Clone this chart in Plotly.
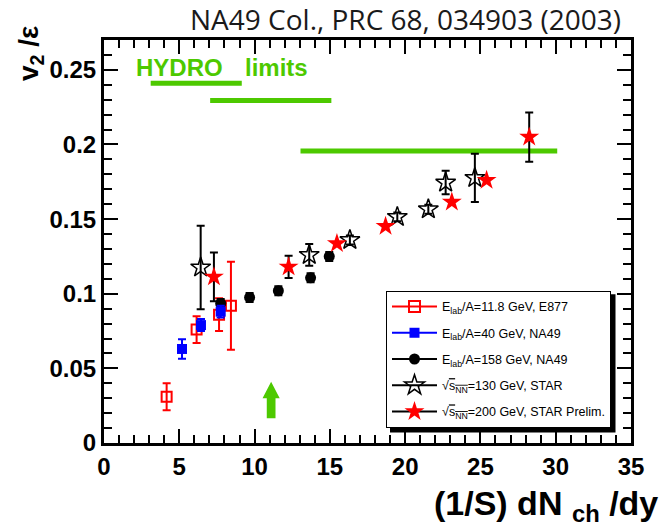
import plotly.graph_objects as go

# ---------------- data ----------------
e877_x = [4.16, 6.15, 7.64, 8.43]
e877_y = [0.031, 0.076, 0.086, 0.092]
e877_err = [0.009, 0.009, 0.011, 0.0295]

na49_40_x = [5.18, 6.44, 7.75]
na49_40_y = [0.063, 0.079, 0.088]
na49_40_err = [0.0065, 0.004, 0.004]

na49_158_x = [7.75, 9.67, 11.58, 13.72, 14.96]
na49_158_y = [0.0935, 0.0975, 0.102, 0.1107, 0.125]
na49_158_err = [0.003, 0.003, 0.003, 0.003, 0.003]

star130_x = [6.42, 13.63, 16.33, 19.48, 21.54, 22.69, 24.63]
star130_y = [0.1176, 0.126, 0.136, 0.1515, 0.1566, 0.1745, 0.1776]
star130_err = [0.028, 0.0073, 0.003, 0.003, 0.003, 0.0079, 0.0162]

star200_x = [7.30, 12.26, 15.47, 18.70, 23.10, 25.41, 28.24]
star200_y = [0.1113, 0.118, 0.1337, 0.1452, 0.1615, 0.176, 0.205]
star200_err = [0.0163, 0.0074, 0.0, 0.0, 0.0, 0.0, 0.0165]

hydro_x0 = [3.1, 7.05, 13.05]
hydro_x1 = [9.15, 15.1, 30.1]
hydro_y = [0.241, 0.2295, 0.1957]

arrow_x = 11.1
arrow_tip = 0.041
arrow_head_base = 0.030
arrow_bottom = 0.0165

x_range = [0, 35]
y_range = [0, 0.27]
x_ticks = [0, 5, 10, 15, 20, 25, 30, 35]
x_ticklabels = ["0", "5", "10", "15", "20", "25", "30", "35"]
y_ticks = [0, 0.05, 0.1, 0.15, 0.2, 0.25]
y_ticklabels = ["0", "0.05", "0.1", "0.15", "0.2", "0.25"]

names = [
    "E<sub>lab</sub>/A=11.8 GeV, E877",
    "E<sub>lab</sub>/A=40 GeV, NA49",
    "E<sub>lab</sub>/A=158 GeV, NA49",
    "√<span style='text-decoration:overline'>s<sub>NN</sub></span>=130 GeV, STAR",
    "√<span style='text-decoration:overline'>s<sub>NN</sub></span>=200 GeV, STAR Prelim.",
]

# ---------------- style ----------------
GREEN = "#4dc900"
RED = "#ff0000"
BLUE = "#0000ff"
BLACK = "#000000"
shaft_half = 0.29
head_half = 0.57

fig = go.Figure()

# hydro limit lines
hx, hy = [], []
for a, b, yv in zip(hydro_x0, hydro_x1, hydro_y):
    hx += [a, b, None]
    hy += [yv, yv, None]
fig.add_trace(go.Scatter(x=hx, y=hy, mode="lines", line=dict(color=GREEN, width=5),
                         showlegend=False, hoverinfo="skip"))

# arrow
ax_pts = [arrow_x - shaft_half, arrow_x - shaft_half, arrow_x - head_half, arrow_x,
          arrow_x + head_half, arrow_x + shaft_half, arrow_x + shaft_half, arrow_x - shaft_half]
ay_pts = [arrow_bottom, arrow_head_base, arrow_head_base, arrow_tip,
          arrow_head_base, arrow_head_base, arrow_bottom, arrow_bottom]
fig.add_trace(go.Scatter(x=ax_pts, y=ay_pts, mode="lines", fill="toself", fillcolor=GREEN,
                         line=dict(color=GREEN, width=0), showlegend=False, hoverinfo="skip"))

def data_trace(x, y, err, ecolor, symbol, color, size, lw=0, lcolor=None):
    return go.Scatter(
        x=x, y=y, mode="markers", showlegend=False,
        error_y=dict(type="data", array=err, color=ecolor, thickness=2, width=4),
        marker=dict(symbol=symbol, color=color, size=size,
                    line=dict(width=lw, color=lcolor if lcolor else color)),
    )

fig.add_trace(data_trace(e877_x, e877_y, e877_err, RED, "square-open", RED, 10, 2, RED))
fig.add_trace(data_trace(na49_158_x, na49_158_y, na49_158_err, BLACK, "circle", BLACK, 11))
fig.add_trace(data_trace(na49_40_x, na49_40_y, na49_40_err, BLUE, "square", BLUE, 10))
fig.add_trace(data_trace(star130_x, star130_y, star130_err, BLACK, "star-open", BLACK, 15, 1.5, BLACK))
fig.add_trace(data_trace(star200_x, star200_y, star200_err, BLACK, "star", RED, 15))

# legend-only entries
leg_specs = [
    (names[0], RED, "square-open", RED, 11, 2),
    (names[1], BLUE, "square", BLUE, 10, 0),
    (names[2], BLACK, "circle", BLACK, 11, 0),
    (names[3], BLACK, "star-open", BLACK, 15, 1.5),
    (names[4], BLACK, "star", RED, 15, 0),
]
for i, (nm, lc, sym, mc, sz, lw) in enumerate(leg_specs):
    fig.add_trace(go.Scatter(
        x=[None], y=[None], mode="lines+markers", name=nm, legendgroup=f"g{i}",
        line=dict(color=lc, width=2),
        marker=dict(symbol=sym, color=mc, size=sz, line=dict(width=lw, color=mc)),
    ))

axis_font = dict(family="Liberation Sans, Arial, sans-serif", size=24, color="black", weight="bold")

fig.update_layout(
    width=662, height=526,
    margin=dict(l=104, r=31, t=40, b=83, autoexpand=False),
    paper_bgcolor="white", plot_bgcolor="white",
    showlegend=True,
    legend=dict(
        x=(386 - 104) / 527, y=(443 - 290.7) / 403.5, xanchor="left", yanchor="top",
        bgcolor="white", bordercolor="black", borderwidth=1,
        font=dict(family="Liberation Sans, Arial, sans-serif", size=12.5, color="black"),
        tracegroupgap=7, itemwidth=45, traceorder="grouped",
    ),
    xaxis=dict(
        range=x_range, tickmode="array", tickvals=x_ticks, ticktext=x_ticklabels,
        showgrid=False, zeroline=False, showline=True, linecolor="black", linewidth=3,
        mirror="allticks", ticks="inside", ticklen=14, tickwidth=2, tickcolor="black",
        tickfont=axis_font, automargin=False,
        minor=dict(dtick=1, ticks="inside", ticklen=8, tickwidth=1.5, tickcolor="black", showgrid=False),
    ),
    yaxis=dict(
        range=y_range, tickmode="array", tickvals=y_ticks, ticktext=y_ticklabels,
        showgrid=False, zeroline=False, showline=True, linecolor="black", linewidth=3,
        mirror="allticks", ticks="inside", ticklen=14, tickwidth=2, tickcolor="black",
        tickfont=axis_font, automargin=False,
        minor=dict(dtick=0.01, ticks="inside", ticklen=8, tickwidth=1.5, tickcolor="black", showgrid=False),
    ),
    shapes=[dict(
        type="rect", xref="paper", yref="paper", layer="above",
        x0=(390 - 104) / 527, x1=(615.5 - 104) / 527,
        y0=(443 - 432.5) / 403.5, y1=(443 - 294) / 403.5,
        fillcolor="black", line=dict(width=0),
    )],
    annotations=[
        dict(text="NA49 Col., PRC 68, 034903 (2003)", xref="paper", yref="paper",
             x=1, y=1, xanchor="right", yanchor="middle", xshift=-8, yshift=21,
             showarrow=False, font=dict(family="Open Sans", size=28, color="#1a1a1a")),
        dict(text="HYDRO", xref="x", yref="y", x=2.0, y=0.2517, xanchor="left", yanchor="middle",
             showarrow=False, font=dict(family="Liberation Sans", size=24, color=GREEN, weight="bold")),
        dict(text="limits", xref="x", yref="y", x=9.2, y=0.2517, xanchor="left", yanchor="middle",
             showarrow=False, font=dict(family="Liberation Sans", size=24, color=GREEN, weight="bold")),
        dict(text="v<sub>2</sub> /ε", xref="paper", yref="paper", x=0, y=1,
             xanchor="center", yanchor="middle", xshift=-74, yshift=-14, textangle=-90,
             showarrow=False, font=dict(family="Liberation Sans", size=28, color="black", weight="bold")),
        dict(text="(1/S) dN <sub>ch</sub> /dy", xref="paper", yref="paper", x=1, y=0,
             xanchor="right", yanchor="middle", xshift=29, yshift=-62,
             showarrow=False, font=dict(family="Liberation Sans", size=34, color="black", weight="bold")),
    ],
)

fig.write_html("out.html", config={"displayModeBar": False},
               post_script="document.body.style.margin='0px';")
